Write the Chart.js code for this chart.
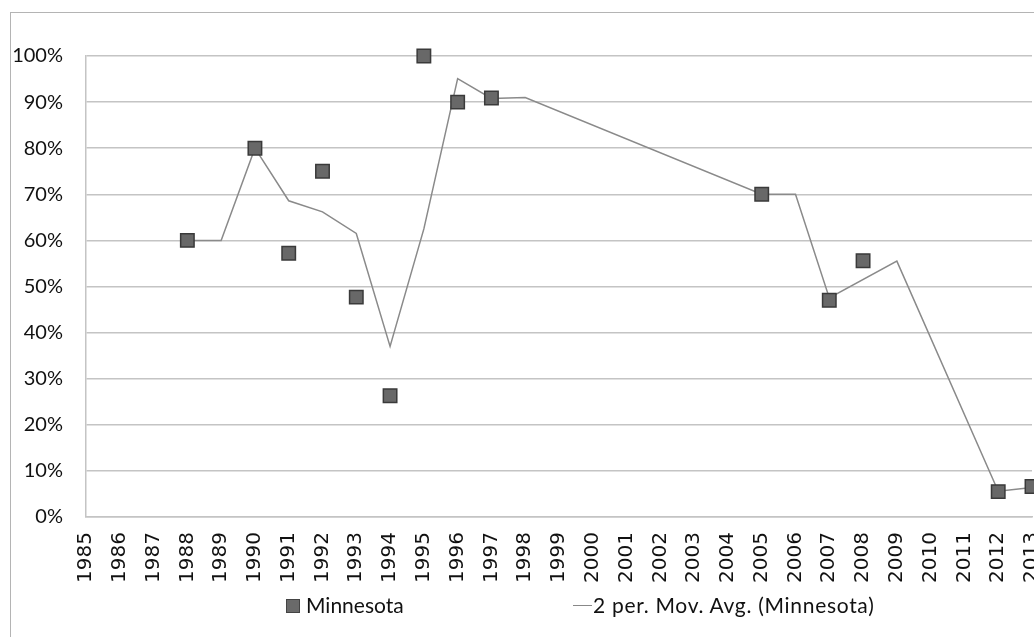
<!DOCTYPE html>
<html>
<head>
<meta charset="utf-8">
<script src="https://cdn.jsdelivr.net/npm/chart.js@4"></script>
<style>
  html, body { margin: 0; padding: 0; background: #fff; overflow: hidden; }
  body { width: 1034px; height: 637px; position: relative; }
  .frame { position: absolute; left: 10px; top: 12px; width: 1100px; height: 700px; border: 1px solid #b4b4b4; }
  #wrap { position: absolute; left: 0; top: 0; width: 1050px; height: 637px; }
  .lg { position: absolute; top: 593px; font: 21px Lato, sans-serif; color: #111; line-height: 24px; white-space: nowrap; }
  .sq { position: absolute; left: 286px; top: 599px; width: 12px; height: 12px; background: #6a6a6a; border: 1px solid #444; }
  .ln { position: absolute; left: 573px; top: 605px; width: 19px; height: 0; border-top: 1.5px solid #888; }
</style>
</head>
<body>
<div class="frame"></div>
<div id="wrap"><canvas id="myChart" width="1050" height="637"></canvas></div>
<div class="sq"></div><span class="lg" style="left:306px">Minnesota</span>
<div class="ln"></div><span class="lg" style="left:593px; letter-spacing:0.7px">2 per. Mov. Avg. (Minnesota)</span>
<script>
// ---- data
var years = ['1985','1986','1987','1988','1989','1990','1991','1992','1993','1994','1995','1996','1997','1998','1999',
  '2000','2001','2002','2003','2004','2005','2006','2007','2008','2009','2010','2011','2012','2013'];

var minnesota = [null, null, null, 0.60, null, 0.80, 0.572, 0.75, 0.477, 0.263, 1.00, 0.90, 0.909, null, null,
  null, null, null, null, null, 0.70, null, 0.47, 0.556, null, null, null, 0.055, 0.066];

var movAvg = [null, null, null, 0.60, 0.60, 0.80, 0.686, 0.662, 0.615, 0.37, 0.625, 0.951, 0.908, 0.91, null,
  null, null, null, null, null, 0.70, 0.70, 0.475, null, 0.555, null, null, 0.056, 0.064];

var yTicks = [0, 0.1, 0.2, 0.3, 0.4, 0.5, 0.6, 0.7, 0.8, 0.9, 1.0];

var ctx = document.getElementById('myChart');
var myChart = new Chart(ctx, {
  type: 'line',
  data: {
    labels: years,
    datasets: [{
      label: 'Minnesota',
      data: minnesota,
      showLine: false,
      clip: false,
      pointStyle: 'rect',
      pointRadius: 9.5,
      pointBackgroundColor: '#686868',
      pointBorderColor: '#3a3a3a',
      pointBorderWidth: 1.5,
      order: 1
    }, {
      label: '2 per. Mov. Avg. (Minnesota)',
      data: movAvg,
      borderColor: '#8a8a8a',
      borderWidth: 1.5,
      pointRadius: 0,
      spanGaps: true,
      tension: 0,
      order: 2
    }]
  },
  options: {
    responsive: false,
    animation: false,
    layout: { padding: { top: 56, right: 18, left: 0, bottom: 0 } },
    plugins: {
      legend: { display: false },
      tooltip: { enabled: false }
    },
    scales: {
      x: {
        offset: false,
        afterFit: function (scale) {
          scale.height = 120;
          scale.paddingRight = 0;
          scale.paddingLeft = 0;
        },
        grid: { display: false, drawTicks: false },
        border: { display: true, color: '#c4c4c4', width: 1.5 },
        ticks: {
          autoSkip: false,
          minRotation: 90,
          maxRotation: 90,
          padding: 15,
          color: '#111',
          font: { family: 'DejaVu Sans', size: 20 }
        }
      },
      y: {
        min: 0,
        max: 1,
        afterFit: function (scale) { scale.width = 86; },
        afterBuildTicks: function (scale) {
          scale.ticks = yTicks.map(function (v) { return { value: v }; });
        },
        grid: { color: '#c4c4c4', lineWidth: 1.5, drawTicks: false },
        border: { display: true, color: '#c4c4c4', width: 1.5 },
        ticks: {
          padding: 23,
          color: '#111',
          font: { family: 'Lato', size: 20 },
          callback: function (v) { return Math.round(v * 100) + '%'; }
        }
      }
    }
  }
});
</script>
</body>
</html>
